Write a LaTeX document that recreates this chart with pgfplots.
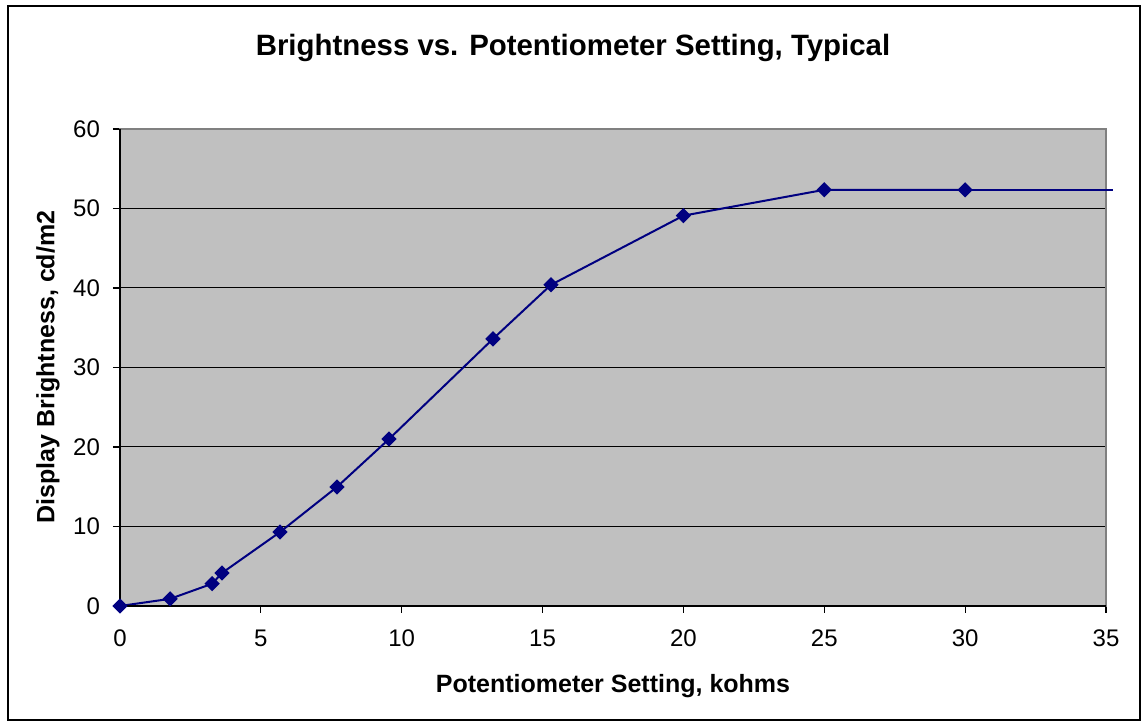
\documentclass[border=0pt]{standalone}
\usepackage{fontspec}
\setmainfont{Liberation Sans}
\usepackage{pgfplots}
\pgfplotsset{compat=1.18}
\definecolor{bggray}{RGB}{192,192,192}
\definecolor{navy}{RGB}{0,0,128}
\definecolor{bordergray}{RGB}{128,128,128}
\begin{document}
\begin{tikzpicture}[x=1pt,y=1pt]
\path (-60,-60) rectangle (512.5,303);
\draw[line width=1.2pt] (-56,-57) rectangle (510,300);
\begin{axis}[
  at={(0,0)}, anchor=south west,
  scale only axis, width=493pt, height=238.5pt,
  xmin=0, xmax=35, ymin=0, ymax=60,
  xtick={0,5,...,35}, ytick={0,10,...,60},
  tick align=outside, major tick length=3.5pt,
  xtick pos=bottom, ytick pos=left,
  axis background/.style={fill=bggray},
  ymajorgrids, grid style={black, line width=0.5pt},
  axis line style={bordergray, line width=0.6pt},
  tick style={black, line width=0.6pt},
  ticklabel style={font=\fontsize{12}{14}\selectfont},
  xticklabel style={yshift=-5pt},
  yticklabel style={xshift=-3pt},
  /pgf/number format/assume math mode=true,
  clip=false,
]
\addplot[navy, line width=1pt, mark=square*, mark size=2.2pt, mark options={fill=navy, draw=navy, rotate=45}]
 coordinates {(0,0) (1.78,0.9) (3.27,2.8) (3.62,4.15) (5.68,9.3) (7.70,14.97) (9.55,21.0) (13.24,33.6) (15.30,40.4) (20.0,49.1) (25.0,52.35) (30.0,52.35)};
\addplot[navy, line width=1pt, mark=none] coordinates {(30.0,52.35) (35.25,52.35)};
\draw[black, line width=0.6pt] (rel axis cs:0,1) -- (rel axis cs:0,0) -- (rel axis cs:1,0);
\end{axis}
\node[font=\bfseries\fontsize{14.7}{17}\selectfont] at (226.5,279) {Brightness vs. Potentiometer Setting, Typical};
\node[font=\bfseries\fontsize{12.5}{15}\selectfont] at (246.5,-40) {Potentiometer Setting, kohms};
\node[font=\bfseries\fontsize{12.5}{15}\selectfont, rotate=90] at (-36,119.5) {Display Brightness, cd/m2};
\end{tikzpicture}
\end{document}
